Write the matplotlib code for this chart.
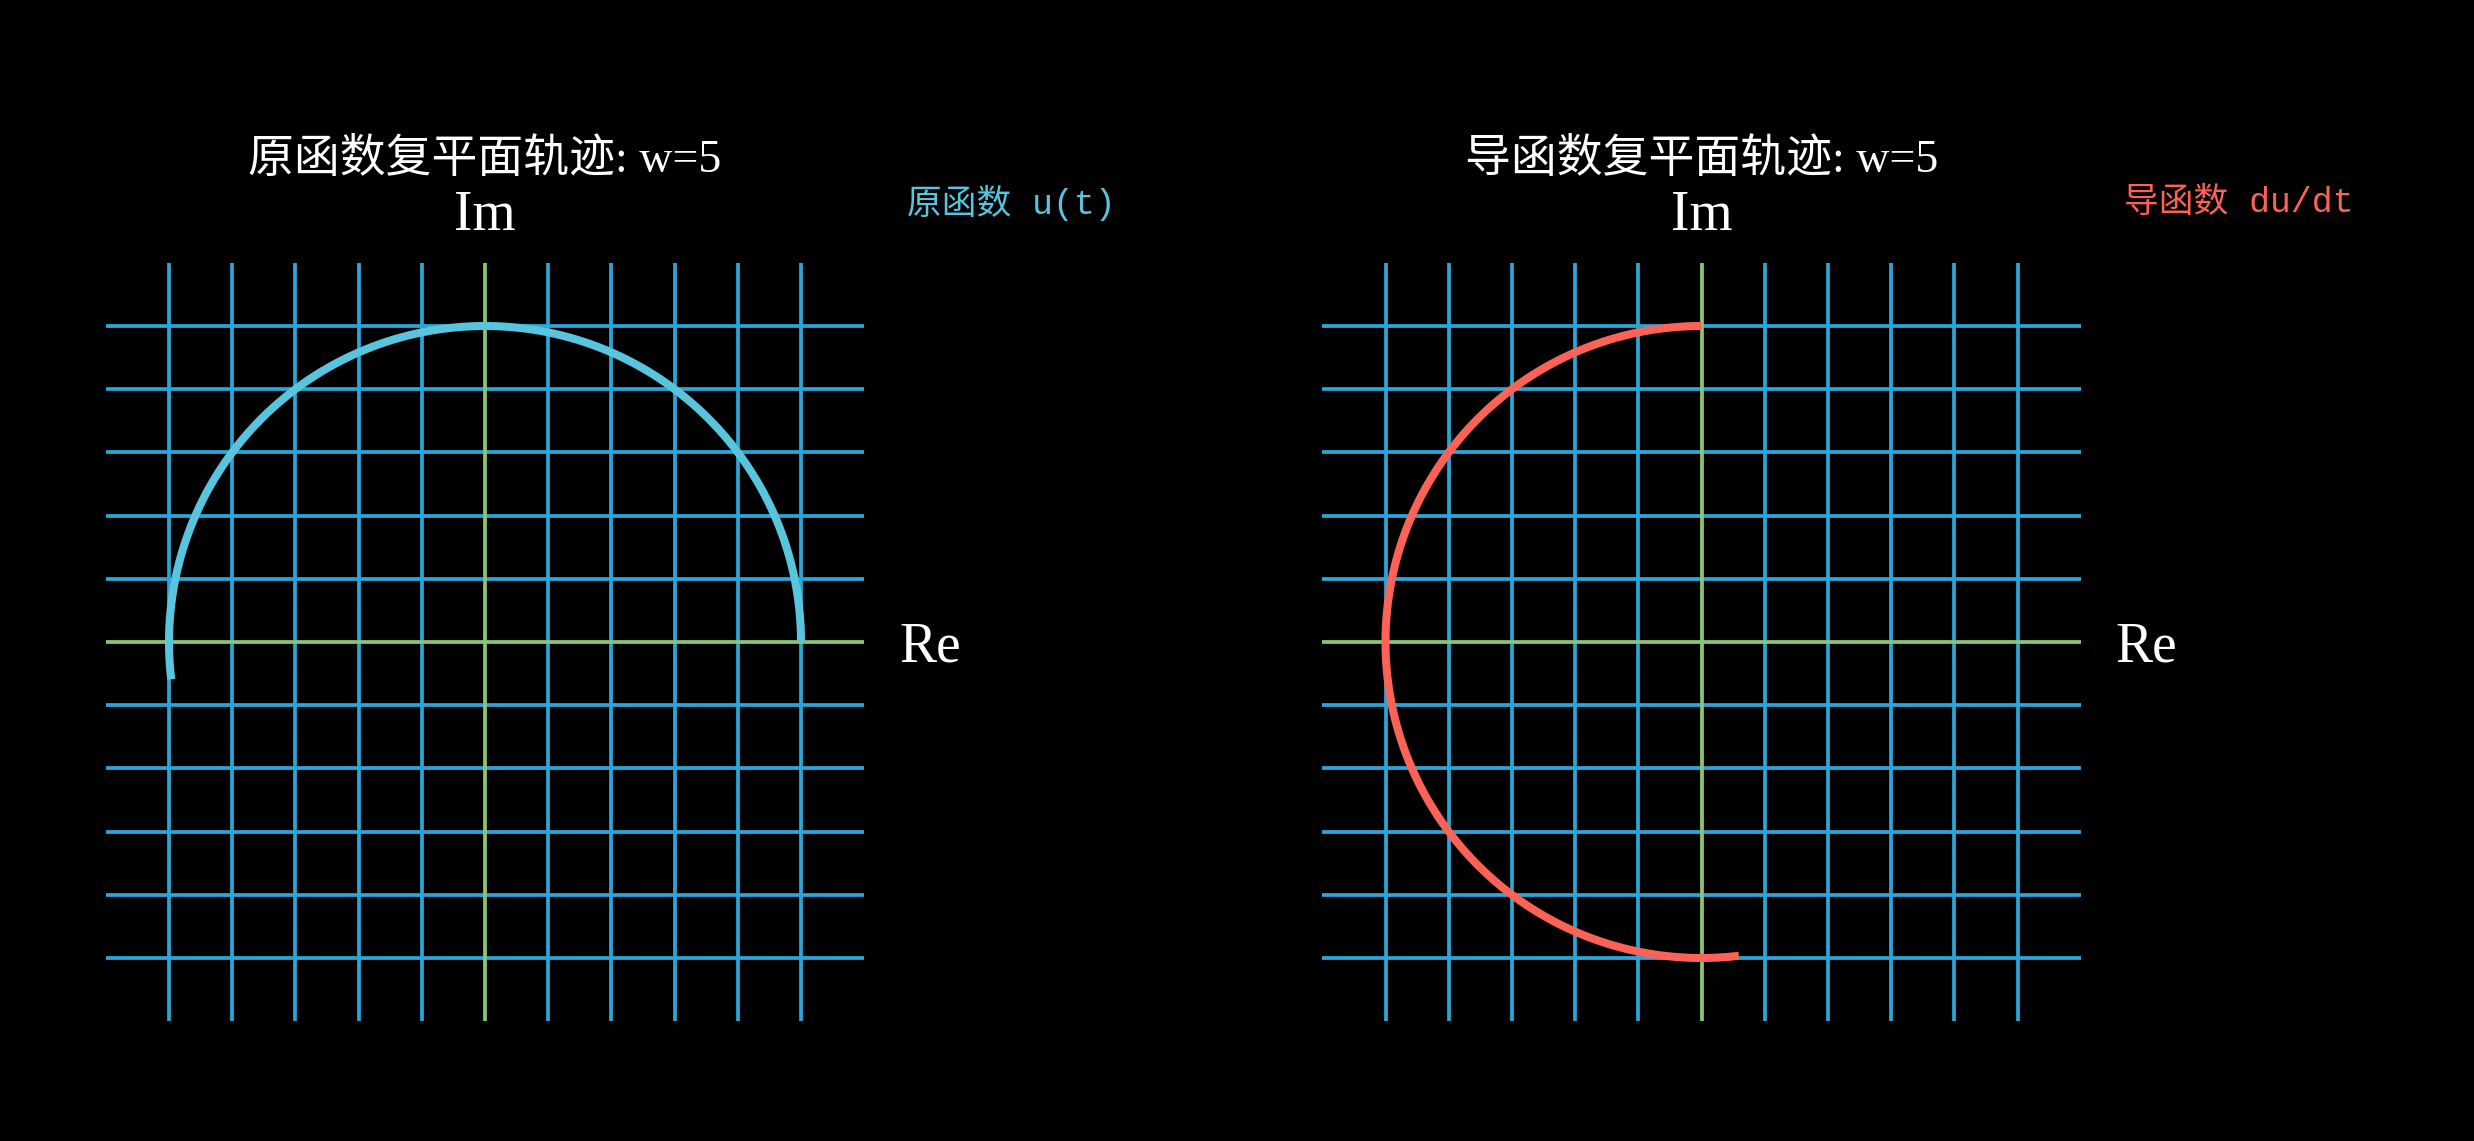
import numpy as np
import matplotlib
matplotlib.use('Agg')
from matplotlib import pyplot as plt

# grid of the complex plane
grid_ticks = [-5, -4, -3, -2, -1, 1, 2, 3, 4, 5]
grid_extent = 6

# trajectory: circle of radius 5, t from 0 to ~3.26
radius = 5.0
t_end = 3.26
u_start_angle = 0.0            # u(t) starts on the positive Re axis
du_start_angle = np.pi / 2     # du/dt starts on the positive Im axis

titles = ['原函数复平面轨迹: w=5', '导函数复平面轨迹: w=5']
labels_cn = ['原函数', '导函数']
labels_math = ['u(t)', 'du/dt']
curve_colors = ['#58C4DD', '#FC6255']

grid_color = '#2AA6D9'
axis_color = '#8CC474'

W, H = 2474, 1141
fig = plt.figure(figsize=(W / 100, H / 100), dpi=100, facecolor='black')

unit = 63.2
half = 6.5
centers = [(485, 642), (1701.5, 642)]

serif_cn = ['Liberation Serif', 'Noto Sans CJK SC']
mono_cn = ['Liberation Mono', 'Noto Sans CJK SC']

for i, (cx, cy) in enumerate(centers):
    size = 2 * half * unit
    ax = fig.add_axes([(cx - half * unit) / W, (H - cy - half * unit) / H, size / W, size / H])
    ax.set_facecolor('black')
    ax.set_xlim(-half, half)
    ax.set_ylim(-half, half)
    ax.axis('off')

    for g in grid_ticks:
        ax.plot([g, g], [-grid_extent, grid_extent], color=grid_color, lw=2.7, solid_capstyle='butt', zorder=1)
        ax.plot([-grid_extent, grid_extent], [g, g], color=grid_color, lw=2.7, solid_capstyle='butt', zorder=1)
    ax.plot([0, 0], [-grid_extent, grid_extent], color=axis_color, lw=2.7, solid_capstyle='butt', zorder=2)
    ax.plot([-grid_extent, grid_extent], [0, 0], color=axis_color, lw=2.7, solid_capstyle='butt', zorder=2)

    start = u_start_angle if i == 0 else du_start_angle
    t = np.linspace(0, t_end, 400)
    z = radius * np.exp(1j * (start + t))
    ax.plot(z.real, z.imag, color=curve_colors[i], lw=5.8, solid_capstyle='butt', zorder=3)

    ax.text(0, 7.62, titles[i], color='white', fontsize=33, family=serif_cn,
            ha='center', va='center', clip_on=False)
    ax.text(0, 6.74, 'Im', color='white', fontsize=40, family='Liberation Serif',
            ha='center', va='center', clip_on=False)
    ax.text(6.55, -0.08, 'Re', color='white', fontsize=40, family='Liberation Serif',
            ha='left', va='center', clip_on=False)
    ax.text(6.68, 6.95, labels_cn[i] + ' ' + labels_math[i], color=curve_colors[i], fontsize=25,
            family=mono_cn, ha='left', va='center', clip_on=False)

fig.savefig('out.png', dpi=100, facecolor='black')
